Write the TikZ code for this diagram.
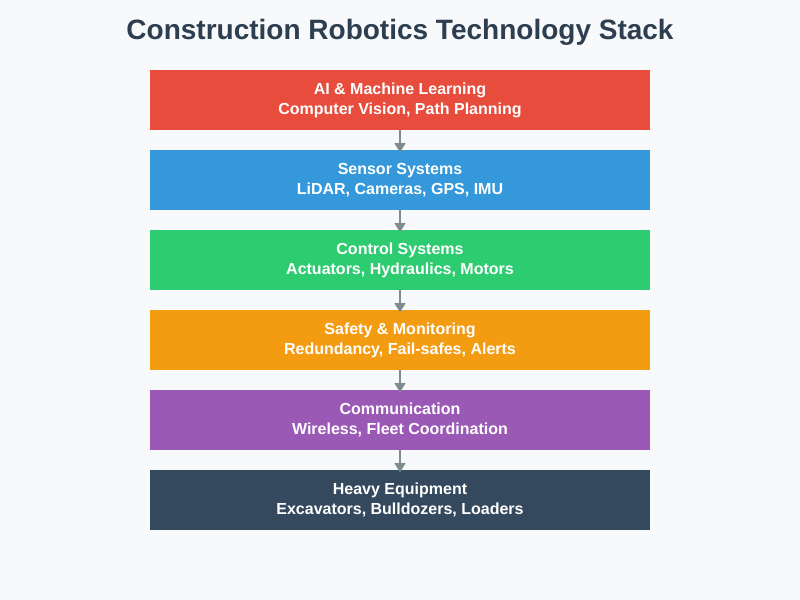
\documentclass[tikz,border=0pt]{standalone}
\usepackage{xcolor}
\usepackage{fontspec}
\setmainfont{Liberation Sans}
\usetikzlibrary{arrows.meta}

\definecolor{bgGray}{HTML}{F8F9FA}
\definecolor{titleBlue}{HTML}{2C3E50}
\definecolor{arrowGray}{HTML}{7F8C8D}
\definecolor{layerRed}{HTML}{E74C3C}
\definecolor{layerBlue}{HTML}{3498DB}
\definecolor{layerGreen}{HTML}{2ECC71}
\definecolor{layerOrange}{HTML}{F39C12}
\definecolor{layerPurple}{HTML}{9B59B6}
\definecolor{layerDark}{HTML}{34495E}

\tikzset{
    layer/.style={minimum width=375pt, minimum height=45pt, inner sep=0pt,
        text=white, align=center, font=\bfseries\fontsize{12}{15}\selectfont},
    link/.style={arrowGray, line width=2pt, shorten >=-2pt,
        -{Triangle[length=7pt, width=8pt]}}
}

\begin{document}
\begin{tikzpicture}[x=0.75pt, y=-0.75pt]
            \fill[bgGray] (0, 0) rectangle (800, 600);
            \node[titleBlue, font=\bfseries\fontsize{21}{25}\selectfont] (title) at (400, 32.5) {Construction Robotics Technology Stack};
            \node[layer, fill=layerRed] (ai) at (400, 100) {AI \& Machine Learning\\Computer Vision, Path Planning};
            \node[layer, fill=layerBlue] (sensor) at (400, 180) {Sensor Systems\\LiDAR, Cameras, GPS, IMU};
            \node[layer, fill=layerGreen] (control) at (400, 260) {Control Systems\\Actuators, Hydraulics, Motors};
            \node[layer, fill=layerOrange] (safety) at (400, 340) {Safety \& Monitoring\\Redundancy, Fail-safes, Alerts};
            \node[layer, fill=layerPurple] (comm) at (400, 420) {Communication\\Wireless, Fleet Coordination};
            \node[layer, fill=layerDark] (heavy) at (400, 500) {Heavy Equipment\\Excavators, Bulldozers, Loaders};
            \foreach \cFrom/\cTo in {ai/sensor, sensor/control, control/safety, safety/comm, comm/heavy}
                \draw[link] (\cFrom) -- (\cTo);
        \end{tikzpicture}
\end{document}
